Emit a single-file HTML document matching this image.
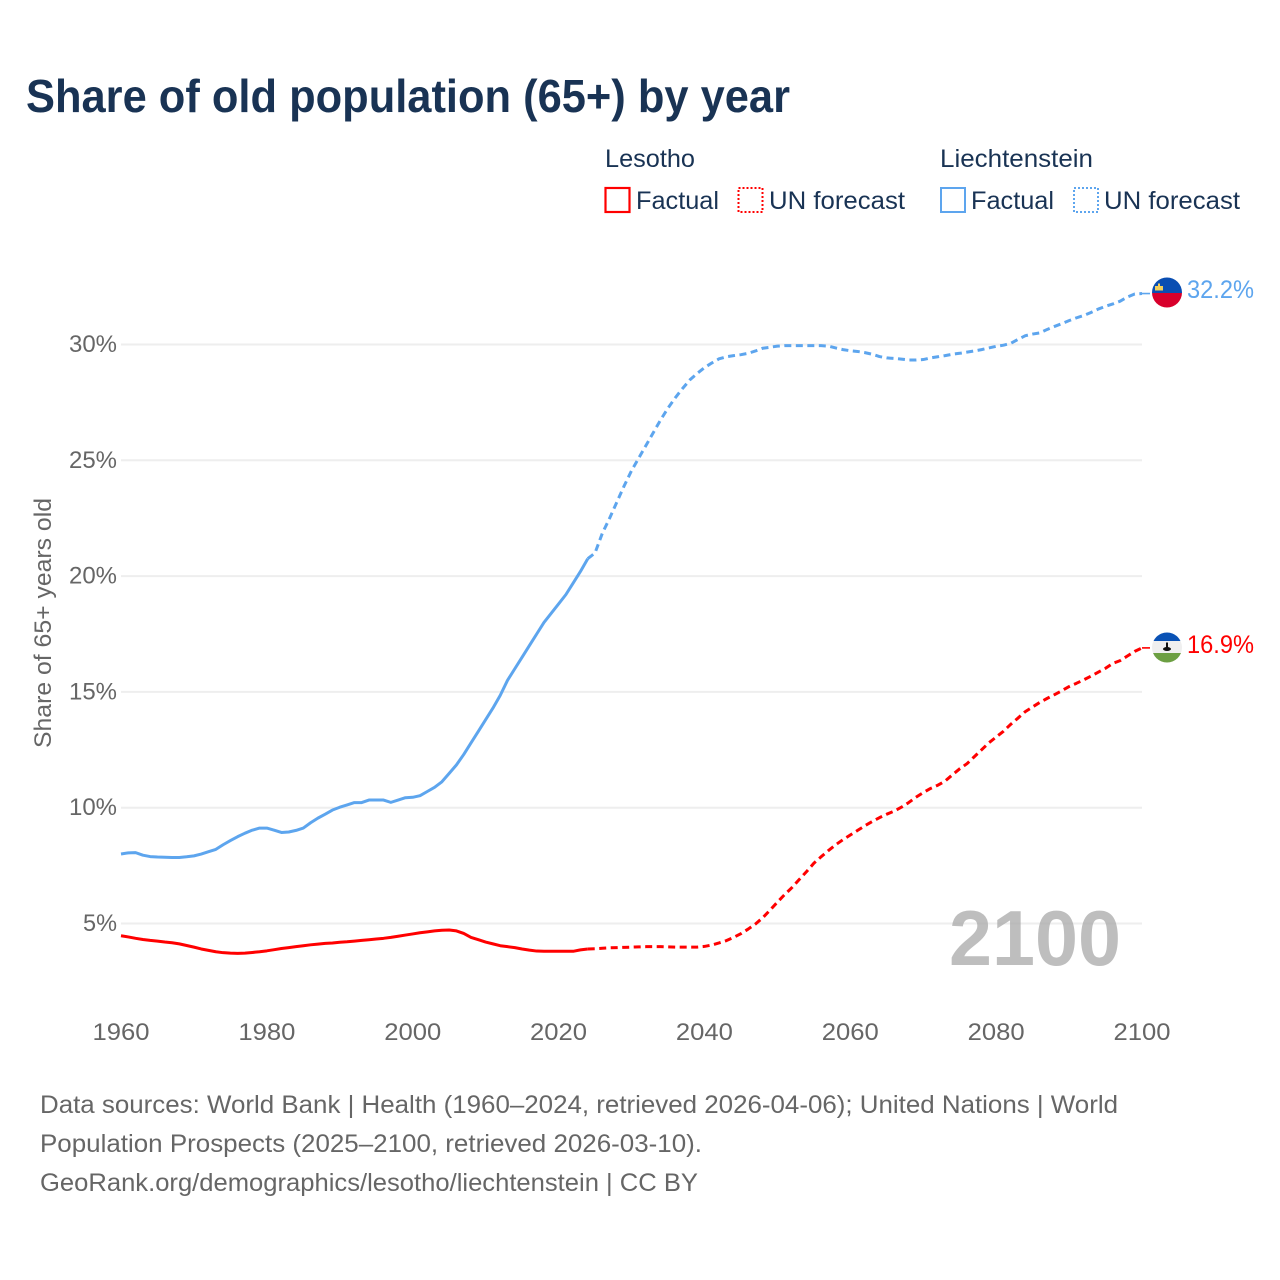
<!DOCTYPE html>
<html lang="en">
<head>
<meta charset="utf-8">
<title>Share of old population (65+) by year</title>
<style>
html,body{margin:0;padding:0;background:#fff;}
svg{display:block;}
text{font-family:"Liberation Sans",sans-serif;}
</style>
</head>
<body>
<svg id="chart" xmlns="http://www.w3.org/2000/svg" width="1280" height="1280" viewBox="0 0 1280 1280">
  <rect width="1280" height="1280" fill="#fff"/>
  <defs>
    <clipPath id="clip-li"><circle cx="1167" cy="292.5" r="15"/></clipPath>
    <clipPath id="clip-ls"><circle cx="1167" cy="647.5" r="15"/></clipPath>
  </defs>

  <text x="26" y="112" font-size="46" font-weight="700" fill="#193354" textLength="764" lengthAdjust="spacingAndGlyphs">Share of old population (65+) by year</text>

  <g font-size="25" fill="#193354">
    <text x="605" y="167" textLength="90" lengthAdjust="spacingAndGlyphs">Lesotho</text>
    <rect x="605.5" y="188" width="24" height="24" fill="none" stroke="#ff0000" stroke-width="2.2"/>
    <text x="636" y="209" textLength="83" lengthAdjust="spacingAndGlyphs">Factual</text>
    <rect x="738.5" y="188" width="24" height="24" fill="none" stroke="#ff0000" stroke-width="2" stroke-dasharray="2 2"/>
    <text x="769" y="209" textLength="136" lengthAdjust="spacingAndGlyphs">UN forecast</text>
    <text x="940" y="167" textLength="153" lengthAdjust="spacingAndGlyphs">Liechtenstein</text>
    <rect x="941" y="188" width="24" height="24" fill="none" stroke="#5da5ee" stroke-width="2"/>
    <text x="971" y="209" textLength="83" lengthAdjust="spacingAndGlyphs">Factual</text>
    <rect x="1074" y="188" width="24" height="24" fill="none" stroke="#5da5ee" stroke-width="2" stroke-dasharray="2 2"/>
    <text x="1104" y="209" textLength="136" lengthAdjust="spacingAndGlyphs">UN forecast</text>
  </g>

  <g id="grid"></g>
  <text x="949" y="965" font-size="78" font-weight="700" fill="#a8a8a8" fill-opacity="0.75" textLength="172" lengthAdjust="spacingAndGlyphs">2100</text>
  <g id="yticks"></g>
  <g id="xticks"></g>
  <text transform="translate(51,748) rotate(-90)" font-size="24" fill="#666666" textLength="250" lengthAdjust="spacingAndGlyphs">Share of 65+ years old</text>
  <g id="series"></g>

  <g clip-path="url(#clip-li)">
    <rect x="1150" y="275" width="34" height="18" fill="#0a4eb2"/>
    <rect x="1150" y="293" width="34" height="17" fill="#d8002b"/>
    <rect x="1155" y="286" width="8" height="4.5" fill="#f2cf5b"/>
    <rect x="1158" y="283.5" width="2" height="3" fill="#f2cf5b"/>
  </g>
  <g clip-path="url(#clip-ls)">
    <rect x="1150" y="630" width="34" height="11" fill="#0a52b5"/>
    <rect x="1150" y="641" width="34" height="12" fill="#efefef"/>
    <rect x="1150" y="653" width="34" height="12" fill="#6c9f42"/>
    <rect x="1166" y="642.5" width="2" height="5" fill="#111"/>
    <ellipse cx="1167" cy="649" rx="4" ry="2" fill="#111"/>
  </g>

  <text id="end-li" x="1187" y="298" font-size="25" fill="#5da5ee" textLength="67" lengthAdjust="spacingAndGlyphs">32.2%</text>
  <text id="end-ls" x="1187" y="653" font-size="25" fill="#ff0000" textLength="67" lengthAdjust="spacingAndGlyphs">16.9%</text>

  <g font-size="25" fill="#666666">
    <text x="40" y="1113" textLength="1078" lengthAdjust="spacingAndGlyphs">Data sources: World Bank | Health (1960–2024, retrieved 2026-04-06); United Nations | World</text>
    <text x="40" y="1152" textLength="662" lengthAdjust="spacingAndGlyphs">Population Prospects (2025–2100, retrieved 2026-03-10).</text>
    <text x="40" y="1191" textLength="658" lengthAdjust="spacingAndGlyphs">GeoRank.org/demographics/lesotho/liechtenstein | CC BY</text>
  </g>
</svg>
<script>
var xTickYears = [1960,1980,2000,2020,2040,2060,2080,2100];
var yTickValues = [5,10,15,20,25,30];
var factualStartYear = 1960;
var forecastStartYear = 2024;
var liechtensteinFactual = [8.0,8.05,8.06,7.95,7.89,7.87,7.86,7.85,7.85,7.88,7.92,8.0,8.1,8.2,8.4,8.58,8.75,8.9,9.03,9.12,9.12,9.03,8.93,8.95,9.02,9.12,9.35,9.55,9.72,9.9,10.02,10.12,10.22,10.22,10.33,10.33,10.33,10.23,10.33,10.43,10.45,10.52,10.7,10.88,11.12,11.48,11.85,12.3,12.8,13.3,13.8,14.3,14.85,15.5,16.0,16.5,17.0,17.5,18.0,18.4,18.8,19.2,19.7,20.2,20.75];
var liechtensteinForecast = [20.75,21.0,21.85,22.5,23.2,23.9,24.55,25.1,25.65,26.2,26.75,27.25,27.7,28.1,28.47,28.75,29.0,29.2,29.38,29.47,29.52,29.56,29.62,29.72,29.84,29.88,29.93,29.95,29.95,29.95,29.95,29.95,29.95,29.93,29.85,29.78,29.73,29.7,29.65,29.58,29.48,29.42,29.4,29.37,29.33,29.33,29.35,29.42,29.47,29.52,29.58,29.62,29.67,29.72,29.78,29.85,29.92,29.97,30.05,30.22,30.38,30.45,30.5,30.65,30.78,30.9,31.03,31.15,31.25,31.38,31.53,31.65,31.75,31.87,32.05,32.18,32.2];
var lesothoFactual = [4.47,4.42,4.36,4.31,4.27,4.24,4.2,4.17,4.12,4.05,3.98,3.9,3.84,3.78,3.74,3.72,3.71,3.72,3.75,3.78,3.82,3.87,3.92,3.96,4.0,4.04,4.08,4.11,4.14,4.16,4.19,4.21,4.24,4.27,4.3,4.33,4.36,4.4,4.45,4.5,4.55,4.6,4.64,4.68,4.71,4.72,4.68,4.57,4.4,4.3,4.2,4.12,4.04,4.0,3.96,3.9,3.85,3.81,3.8,3.8,3.8,3.8,3.8,3.86,3.9];
var lesothoForecast = [3.9,3.91,3.93,3.95,3.96,3.97,3.98,3.99,4.0,4.0,4.0,3.99,3.98,3.98,3.98,3.98,4.01,4.07,4.16,4.26,4.4,4.56,4.76,4.98,5.25,5.58,5.92,6.25,6.55,6.9,7.24,7.6,7.88,8.15,8.4,8.62,8.82,9.02,9.22,9.4,9.57,9.72,9.85,10.02,10.22,10.45,10.65,10.83,10.97,11.15,11.42,11.68,11.9,12.2,12.5,12.8,13.05,13.3,13.6,13.87,14.15,14.35,14.55,14.72,14.88,15.05,15.23,15.37,15.52,15.68,15.85,16.02,16.23,16.35,16.55,16.75,16.9];

var NS = 'http://www.w3.org/2000/svg';
function xScale(year){ return 121 + (year - 1960) * (1142 - 121) / 140; }
function yScale(v){ return 923.5 - (v - 5) * (923.5 - 344.5) / 25; }
function linePath(values, startYear){
  var d = '';
  for (var i = 0; i < values.length; i++) {
    d += (i ? 'L' : 'M') + xScale(startYear + i).toFixed(2) + ' ' + yScale(values[i]).toFixed(2);
  }
  return d;
}
function addPath(parent, d, color, dash){
  var p = document.createElementNS(NS, 'path');
  p.setAttribute('d', d);
  p.setAttribute('fill', 'none');
  p.setAttribute('stroke', color);
  p.setAttribute('stroke-width', '3');
  p.setAttribute('stroke-linejoin', 'round');
  if (dash) p.setAttribute('stroke-dasharray', dash);
  parent.appendChild(p);
  return p;
}
var grid = document.getElementById('grid');
var yticks = document.getElementById('yticks');
var xticks = document.getElementById('xticks');
var series = document.getElementById('series');

yTickValues.forEach(function(v){
  var l = document.createElementNS(NS, 'line');
  
  
  l.setAttribute('x1', xScale(1960));
  l.setAttribute('x2', xScale(2100));
  l.setAttribute('y1', yScale(v));
  l.setAttribute('y2', yScale(v));
  l.setAttribute('stroke', '#eeeeee');
  l.setAttribute('stroke-width', '2');
  grid.appendChild(l);
  var t = document.createElementNS(NS, 'text');
  
  
  var label = v + '%';
  var w = v < 10 ? 34 : 48;
  t.setAttribute('x', 117 - w);
  t.setAttribute('y', yScale(v) + 7.5);
  t.setAttribute('font-size', '24');
  t.setAttribute('fill', '#666666');
  t.setAttribute('textLength', w);
  t.setAttribute('lengthAdjust', 'spacingAndGlyphs');
  t.textContent = label;
  yticks.appendChild(t);
});

xTickYears.forEach(function(y){
  var t = document.createElementNS(NS, 'text');
  
  
  t.setAttribute('x', xScale(y) - 28.5);
  t.setAttribute('y', 1040);
  t.setAttribute('font-size', '24');
  t.setAttribute('fill', '#666666');
  t.setAttribute('textLength', '57');
  t.setAttribute('lengthAdjust', 'spacingAndGlyphs');
  t.textContent = String(y);
  xticks.appendChild(t);
});

var DASH = '7 4.5';
var blue = '#5da5ee';
var red = '#ff0000';

var s1 = addPath(series, linePath(liechtensteinFactual, factualStartYear), blue);


var s2 = addPath(series, linePath(liechtensteinForecast, forecastStartYear), blue, DASH);


var s3 = addPath(series, linePath(lesothoFactual, factualStartYear), red);


var s4 = addPath(series, linePath(lesothoForecast, forecastStartYear), red, DASH);



var liLast = liechtensteinForecast[liechtensteinForecast.length - 1];
var lsLast = lesothoForecast[lesothoForecast.length - 1];
var c1 = addPath(series, 'M' + xScale(2100) + ' ' + yScale(liLast) + 'H' + (xScale(2100) + 8), blue);
c1.setAttribute('stroke-width', '1.6');


var c2 = addPath(series, 'M' + xScale(2100) + ' ' + yScale(lsLast) + 'H' + (xScale(2100) + 8), red);
c2.setAttribute('stroke-width', '1.6');



document.getElementById('end-li').textContent = liLast.toFixed(1) + '%';
document.getElementById('end-ls').textContent = lsLast.toFixed(1) + '%';
</script>
</body>
</html>
